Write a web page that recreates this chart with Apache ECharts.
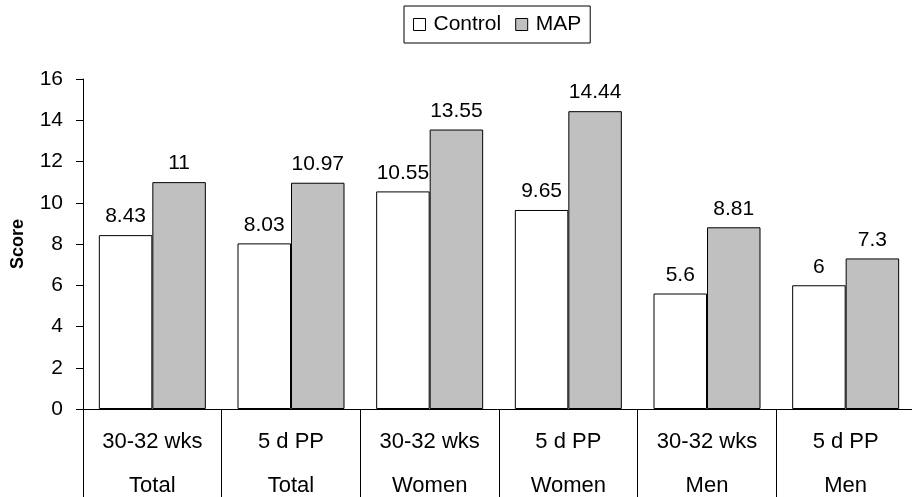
<!DOCTYPE html>
<html>
<head>
<meta charset="utf-8">
<script src="https://cdn.jsdelivr.net/npm/echarts@6/dist/echarts.min.js"></script>
<style>html,body{margin:0;padding:0;background:#fff;overflow:hidden;}#c{width:912px;height:497px;}</style>
</head>
<body>
<div id="c"></div>
<script>
var timepoints = ['30-32 wks', '5 d PP', '30-32 wks', '5 d PP', '30-32 wks', '5 d PP'];
var groups = ['Total', 'Total', 'Women', 'Women', 'Men', 'Men'];
var controlValues = [8.43, 8.03, 10.55, 9.65, 5.6, 6];
var mapValues = [11, 10.97, 13.55, 14.44, 8.81, 7.3];
var yTicks = {min: 0, max: 16, interval: 2};

var categories = timepoints.map(function (t, i) { return t + '\n' + groups[i]; });
var FONT = '"Liberation Sans", Arial, Helvetica, sans-serif';
var chart = echarts.init(document.getElementById('c'), null, {renderer: 'canvas'});
chart.setOption({
  animation: false,
  backgroundColor: '#fff',
  textStyle: {fontFamily: FONT, color: '#000'},
  legend: {
    left: 404, top: 6,
    padding: [8, 9, 8, 9],
    borderColor: '#000', borderWidth: 1,
    itemWidth: 12, itemHeight: 12, itemGap: 14,
    textStyle: {fontFamily: FONT, fontSize: 21, color: '#000', padding: [0, 0, 0, 3]},
    data: [
      {name: 'Control', icon: 'rect', itemStyle: {color: '#fff', borderColor: '#000', borderWidth: 1}},
      {name: 'MAP', icon: 'rect', itemStyle: {color: '#c0c0c0', borderColor: '#000', borderWidth: 1}}
    ]
  },
  grid: {left: 83, right: -3, top: 79, bottom: 88, containLabel: false, outerBoundsMode: 'none'},
  xAxis: {
    type: 'category',
    data: categories,
    axisLine: {show: true, lineStyle: {color: '#000', width: 1}},
    axisTick: {show: true, length: 92, lineStyle: {color: '#000', width: 1}, interval: 0},
    axisLabel: {interval: 0, margin: 11, lineHeight: 44, fontSize: 22, color: '#000', fontFamily: FONT}
  },
  yAxis: {
    type: 'value',
    min: yTicks.min, max: yTicks.max, interval: yTicks.interval,
    name: 'Score', nameLocation: 'middle', nameRotate: 90, nameGap: 56,
    nameTextStyle: {fontSize: 18, fontWeight: 'bold', color: '#000', fontFamily: FONT},
    axisLine: {show: true, lineStyle: {color: '#000', width: 1}},
    axisTick: {show: true, length: 7, lineStyle: {color: '#000'}},
    axisLabel: {margin: 20, fontSize: 21, color: '#000', fontFamily: FONT},
    splitLine: {show: false}
  },
  series: [
    {
      name: 'Control', type: 'bar', data: controlValues,
      barWidth: 53.5, barGap: '0%',
      itemStyle: {color: '#fff', borderColor: '#000', borderWidth: 1},
      label: {show: true, position: 'top', distance: 8, fontSize: 21, color: '#000', fontFamily: FONT}
    },
    {
      name: 'MAP', type: 'bar', data: mapValues,
      barWidth: 53.5, barGap: '0%',
      itemStyle: {color: '#c0c0c0', borderColor: '#000', borderWidth: 1},
      label: {show: true, position: 'top', distance: 8, fontSize: 21, color: '#000', fontFamily: FONT}
    }
  ]
});
</script>
</body>
</html>
